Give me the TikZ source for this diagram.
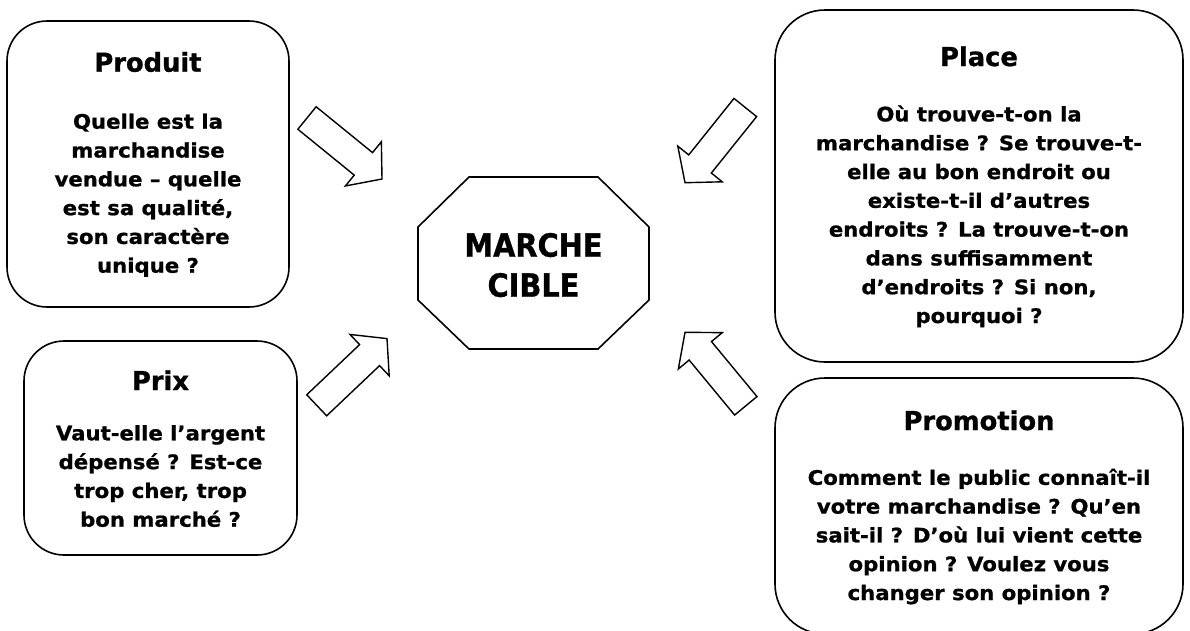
\documentclass[tikz,border=0pt]{standalone}
\usepackage{fontspec}
\setmainfont{DejaVu Sans}
\newfontfamily\ttlfont{DejaVu Sans}[FakeStretch=0.99,FakeBold=1]
\newfontfamily\bodyfont{DejaVu Sans}[FakeStretch=1.06,FakeBold=1]
\newfontfamily\bigfont{DejaVu Sans}[FakeStretch=0.9,FakeBold=1]
\usetikzlibrary{calc}
\tikzset{
  box/.style={draw, line width=1.6pt, rounded corners=#1, inner sep=0pt},
  ttl/.style={anchor=base, inner sep=0pt, font=\ttlfont\bfseries\fontsize{26}{30}\selectfont},
  bodytxt/.style={anchor=base, align=center, inner sep=0pt, font=\bodyfont\bfseries\fontsize{20}{28.8}\selectfont},
  bigtxt/.style={anchor=base, align=center, inner sep=0pt, font=\bigfont\bfseries\fontsize{32}{40}\selectfont},
  octo/.style={draw, line width=1.6pt, line join=miter},
  blockarrow/.style={draw, line width=1.4pt, fill=white, line join=miter},
}
\newcommand\blockarr[2]{%
  \coordinate (#2h) at ($(#2)!24pt!(#1)$);
  \draw[blockarrow] ($(#1)!14.5pt!90:(#2)$) -- ($(#2h)!14.5pt!90:(#2)$)
    -- ($(#2h)!28.5pt!90:(#2)$) -- (#2) -- ($(#2h)!28.5pt!-90:(#2)$)
    -- ($(#2h)!14.5pt!-90:(#2)$) -- ($(#1)!14.5pt!-90:(#2)$) -- cycle;
}
\begin{document}
\begin{tikzpicture}[x=1pt,y=-1pt]
\useasboundingbox (0,0) rectangle (1190,630);
% boxes
\node[box=40pt, minimum width=282pt, minimum height=286pt] (produit) at (148,164) {};
\node[box=40pt, minimum width=273pt, minimum height=214pt] (prix) at (160.5,448) {};
\node[box=50pt, minimum width=408pt, minimum height=352pt] (place) at (979,186) {};
\node[box=50pt, minimum width=408pt, minimum height=256pt] (promo) at (979,506) {};
% octagon
\draw[octo] (469,177) -- (598,177) -- (649,227) -- (649,300) -- (598,349)
  -- (469,349) -- (418,300) -- (418,227) -- cycle;
\node[bigtxt] (cible) at (533.5,296.7) {MARCHE\\CIBLE};
% titles
\node[ttl] (tproduit) at (148,71.7) {Produit};
\node[ttl] (tprix) at (160.5,390) {Prix};
\node[ttl] (tplace) at (979,66) {Place};
\node[ttl] (tpromo) at (979,430) {Promotion};
% bodies (anchor base = last line)
\node[bodytxt] (bproduit) at (148,272.7) {Quelle est la\\marchandise\\vendue – quelle\\est sa qualité,\\son caractère\\unique ?};
\node[bodytxt] (bprix) at (160.5,526.7) {Vaut-elle l’argent\\dépensé ? Est-ce\\trop cher, trop\\bon marché ?};
\node[bodytxt] (bplace) at (979,323) {Où trouve-t-on la\\marchandise ? Se trouve-t-\\elle au bon endroit ou\\existe-t-il d’autres\\endroits ? La trouve-t-on\\dans suffisamment\\d’endroits ? Si non,\\pourquoi ?};
\node[bodytxt] (bpromo) at (979,600) {Comment le public connaît-il\\votre marchandise ? Qu’en\\sait-il ? D’où lui vient cette\\opinion ? Voulez vous\\changer son opinion ?};
% block arrows
\coordinate (a1t) at (307,118);   \coordinate (a1p) at (382,179);
\coordinate (a2t) at (316.7,405.3); \coordinate (a2p) at (387,338.6);
\coordinate (a3t) at (745.3,107.5); \coordinate (a3p) at (685,182.7);
\coordinate (a4t) at (745.8,405.8); \coordinate (a4p) at (685,332.3);
\blockarr{a1t}{a1p}
\blockarr{a2t}{a2p}
\blockarr{a3t}{a3p}
\blockarr{a4t}{a4p}
\end{tikzpicture}
\end{document}
